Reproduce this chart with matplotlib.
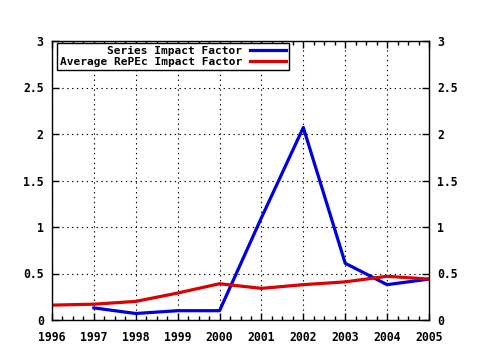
import matplotlib
matplotlib.use('Agg')
import matplotlib.pyplot as plt
from matplotlib.ticker import AutoMinorLocator

# Data
years = [1996, 1997, 1998, 1999, 2000, 2001, 2002, 2003, 2004, 2005]
series_years = [1997, 1998, 1999, 2000, 2001, 2002, 2003, 2004, 2005]
series_if = [0.13, 0.07, 0.10, 0.10, 1.10, 2.07, 0.61, 0.38, 0.44]
repec_if = [0.16, 0.17, 0.20, 0.29, 0.39, 0.34, 0.38, 0.41, 0.47, 0.44]
ytick_vals = [0, 0.5, 1, 1.5, 2, 2.5, 3]
ytick_labels = ['0', '0.5', '1', '1.5', '2', '2.5', '3']

plt.rcParams['font.family'] = 'DejaVu Sans Mono'
plt.rcParams['font.weight'] = 'bold'

fig = plt.figure(figsize=(4.8, 3.5), dpi=100)
ax = fig.add_axes([52/480, 30/350, (429-52)/480, (320-41)/350])

ax.plot(series_years, series_if, color='#0000dd', lw=2.3, label='Series Impact Factor')
ax.plot(years, repec_if, color='#dd0000', lw=2.3, label='Average RePEc Impact Factor')

ax.set_xlim(1996, 2005)
ax.set_ylim(0, 3)
ax.set_xticks(years)
ax.set_xticklabels([str(y) for y in years], fontsize=8.3, fontweight='bold')
ax.set_yticks(ytick_vals)
ax.set_yticklabels(ytick_labels, fontsize=8.3, fontweight='bold')
ax.xaxis.set_minor_locator(AutoMinorLocator(4))

ax.tick_params(axis='both', which='major', direction='in', length=5, width=1,
               top=True, right=True, labelright=True, pad=6)
ax.tick_params(axis='x', which='major', pad=8)
ax.tick_params(axis='x', which='minor', direction='in', length=3, width=1, top=True)
ax.tick_params(axis='y', which='minor', left=False, right=False)

ax.grid(True, which='major', color='black', linestyle=(0, (1.2, 3.2)), lw=0.8)
for s in ax.spines.values():
    s.set_linewidth(1)

leg = ax.legend(loc='upper left', bbox_to_anchor=(5/377, 1 - 2/279), markerfirst=False,
                fancybox=False, framealpha=1, edgecolor='black',
                prop={'size': 8.0, 'weight': 'bold'}, borderpad=0.25,
                labelspacing=0.1, handlelength=3.3, handletextpad=0.7,
                borderaxespad=0)
leg.get_frame().set_linewidth(1)

fig.savefig('out.png', dpi=100)
